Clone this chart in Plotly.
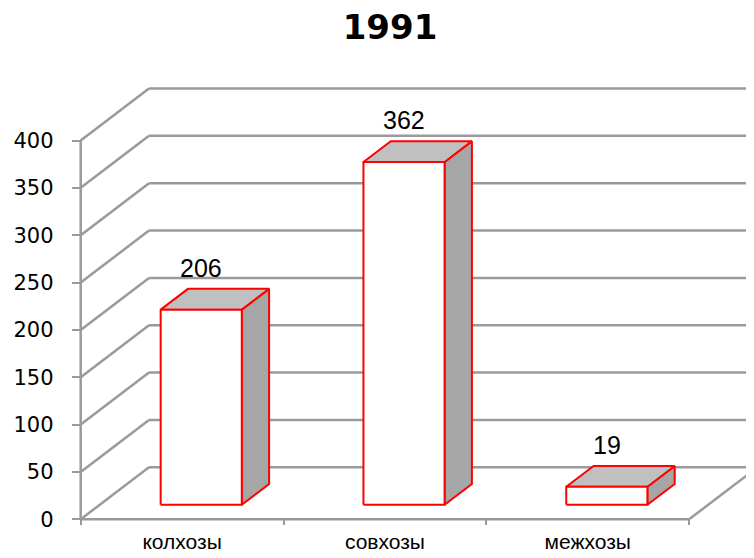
import plotly.graph_objects as go

# ---- data ----
title_text = "1991"
categories = ["колхозы", "совхозы", "межхозы"]
values = [206, 362, 19]
y_ticks = [0, 50, 100, 150, 200, 250, 300, 350, 400]

# ---- geometry (pixels -> axis units) ----
W, H = 754, 558
PAGE = 8                             # page body margin of the browser
X0_PX, Y0_PX = 80.7 - PAGE, 519.3 - PAGE   # front-plane origin in pixels
PX_PER_X = 202.8                     # pixels per category
PX_PER_Y = 0.947                     # pixels per value unit
DX = 68.3 / PX_PER_X                 # depth offset (x units)
DY = 52.0 / PX_PER_Y                 # depth offset (y units)
F = 0.28                             # bar front offset (fraction of depth)
BD = 0.40                            # bar depth (fraction of depth)
BW = 0.40                            # bar width (fraction of category)

x_range = [-X0_PX / PX_PER_X, (W - X0_PX) / PX_PER_X]
y_range = [-(H - Y0_PX) / PX_PER_Y, Y0_PX / PX_PER_Y]

GRID = "#9a9a9a"
RED = "#ff0000"

fig = go.Figure()
shapes = []

def line(x0, y0, x1, y1):
    shapes.append(dict(type="line", xref="x", yref="y", x0=x0, y0=y0, x1=x1, y1=y1,
                       line=dict(color=GRID, width=2.5), layer="below"))

ymax = y_ticks[-1]
ncat = len(categories)
# back wall gridlines and side-wall diagonals
for v in y_ticks:
    line(DX, v + DY, ncat + DX + 0.2, v + DY)
    line(0, v, DX, v + DY)
# front axis lines, floor right edge
line(0, 0, 0, ymax)
line(0, 0, ncat, 0)
line(ncat, 0, ncat + DX, DY)

# bars
for i, v in enumerate(values):
    x0 = i + (1 - BW) / 2 + F * DX
    x1 = x0 + BW
    b = F * DY
    t = v + F * DY
    ddx, ddy = BD * DX, BD * DY
    common = dict(mode="lines", fill="toself", line=dict(color=RED, width=2),
                  hoverinfo="skip", showlegend=False)
    # side face
    fig.add_trace(go.Scatter(x=[x1, x1, x1 + ddx, x1 + ddx, x1],
                             y=[b, t, t + ddy, b + ddy, b],
                             fillcolor="#a6a6a6", **common))
    # top face
    fig.add_trace(go.Scatter(x=[x0, x1, x1 + ddx, x0 + ddx, x0],
                             y=[t, t, t + ddy, t + ddy, t],
                             fillcolor="#c0c0c0", **common))
    # front face
    fig.add_trace(go.Scatter(x=[x0, x1, x1, x0, x0],
                             y=[b, b, t, t, b],
                             fillcolor="#ffffff", **common))
    fig.add_annotation(x=(x0 + x1) / 2, y=t + ddy, xref="x", yref="y",
                       text=str(v), showarrow=False, yanchor="middle", yshift=21,
                       font=dict(family="Liberation Sans", size=25, color="#000000"))

fig.update_layout(
    width=W, height=H,
    margin=dict(l=0, r=0, t=0, b=0),
    paper_bgcolor="white", plot_bgcolor="white",
    shapes=shapes,
    showlegend=False,
    title=dict(text="<b>" + title_text + "</b>", x=(390 - PAGE) / W, xanchor="center",
               xref="paper", yref="container", y=1 - (27 - PAGE) / H, yanchor="middle",
               font=dict(family="DejaVu Sans", size=34, color="#000000")),
    xaxis=dict(range=x_range, anchor="free", position=(H - Y0_PX) / H,
               showgrid=False, zeroline=False, showline=False,
               tickvals=[i + 0.5 for i in range(ncat)], ticktext=categories,
               ticks="", ticklabelstandoff=8,
               tickfont=dict(family="Liberation Sans", size=21, color="#000000"),
               minor=dict(tickvals=list(range(ncat + 1)), ticks="outside",
                          ticklen=5, tickwidth=2, tickcolor=GRID, showgrid=False)),
    yaxis=dict(range=y_range, anchor="free", position=X0_PX / W,
               showgrid=False, zeroline=False, showline=False,
               tickvals=y_ticks, ticks="outside", ticklen=9, tickwidth=2,
               tickcolor=GRID, ticklabelstandoff=14,
               tickfont=dict(family="DejaVu Sans", size=21, color="#000000")),
)

fig.write_html("out.html")
